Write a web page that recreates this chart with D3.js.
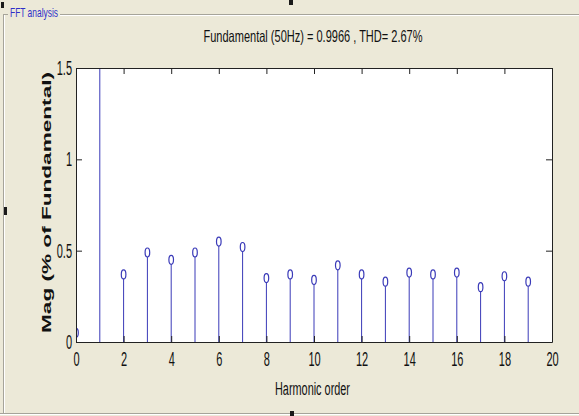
<!DOCTYPE html>
<html>
<head>
<meta charset="utf-8">
<script src="https://cdn.jsdelivr.net/npm/d3@7"></script>
<style>
  html, body { margin: 0; padding: 0; background: #ece9d8; }
  svg { display: block; font-family: 'Liberation Sans', Arial, sans-serif; }
</style>
</head>
<body>
<div id="chart"></div>
<script>
/* global d3 */

// Harmonic spectrum, in % of fundamental (the fundamental itself runs off the top)
const harmonics = [0, 1, 2, 3, 4, 5, 6, 7, 8, 9, 10, 11, 12, 13, 14, 15, 16, 17, 18, 19]
const magnitudes = [0.05, 100, 0.37, 0.49, 0.45, 0.49, 0.55, 0.52, 0.35, 0.37,
  0.34, 0.42, 0.37, 0.33, 0.38, 0.37, 0.38, 0.30, 0.36, 0.33]
const xTicks = [0, 2, 4, 6, 8, 10, 12, 14, 16, 18, 20]
const yTicks = [0, 0.5, 1, 1.5]
const titleText = 'Fundamental (50Hz) = 0.9966 , THD= 2.67%'
const xLabel = 'Harmonic order'
const yLabel = 'Mag (% of Fundamental)'
const panelLabel = 'FFT analysis'

// Our canvas
const width = 579,
  height = 416,
  plotLeft = 76,
  plotRight = 552,
  plotTop = 68,
  plotBottom = 342

const blue = '#3a3ab8'

let svg = d3.select('#chart')
  .append('svg')
  .attr('width', width)
  .attr('height', height)

svg.append('rect')
  .attr('width', width)
  .attr('height', height)
  .attr('fill', '#ece9d8')

// group box frame (etched lines)
const etch = (x1, y1, x2, y2) => {
  const v = x1 === x2 ? 1 : 0
  svg.append('line').attr('x1', x1).attr('y1', y1).attr('x2', x2).attr('y2', y2)
    .attr('stroke', '#a6a49a').attr('stroke-width', 1)
  svg.append('line').attr('x1', x1 + v).attr('y1', y1 + (1 - v))
    .attr('x2', x2 + v).attr('y2', y2 + (1 - v))
    .attr('stroke', '#ffffff').attr('stroke-width', 1)
}
etch(60, 14.5, width, 14.5)
etch(3.5, 14, 3.5, 413)
etch(0, 413.5, width, 413.5)
svg.append('line').attr('x1', 3.5).attr('y1', 14.5).attr('x2', 8).attr('y2', 14.5)
  .attr('stroke', '#a6a49a')

svg.append('text')
  .attr('x', 10)
  .attr('y', 17)
  .attr('font-size', 13)
  .attr('fill', '#2f2fc8')
  .attr('textLength', 48)
  .attr('lengthAdjust', 'spacingAndGlyphs')
  .text(panelLabel)

// resize handles
const handles = [[1, 2, 3, 6], [289, 0, 4, 5], [4, 207, 3, 8], [290, 411, 4, 5]]
handles.forEach(h => {
  svg.append('rect').attr('x', h[0]).attr('y', h[1]).attr('width', h[2]).attr('height', h[3])
    .attr('fill', '#1a1a1a')
})

const xScale = d3.scaleLinear().domain([0, 20]).range([plotLeft, plotRight])
const yScale = d3.scaleLinear().domain([0, 1.5]).range([plotBottom, plotTop])

svg.append('rect')
  .attr('x', plotLeft)
  .attr('y', plotTop)
  .attr('width', plotRight - plotLeft)
  .attr('height', plotBottom - plotTop)
  .attr('fill', '#ffffff')

svg.append('clipPath').attr('id', 'plotclip')
  .append('rect')
  .attr('x', plotLeft)
  .attr('y', plotTop)
  .attr('width', plotRight - plotLeft)
  .attr('height', plotBottom - plotTop)

// stems
const plot = svg.append('g').attr('clip-path', 'url(#plotclip)')
const ry = 4.5

plot.selectAll('line.stem')
  .data(harmonics)
  .enter()
  .append('line')
  .attr('class', 'stem')
  .attr('x1', d => xScale(d))
  .attr('x2', d => xScale(d))
  .attr('y1', yScale(0))
  .attr('y2', (d, i) => yScale(magnitudes[i]) + ry)
  .attr('stroke', blue)
  .attr('stroke-width', 1)

plot.selectAll('ellipse.mark')
  .data(harmonics)
  .enter()
  .append('ellipse')
  .attr('class', 'mark')
  .attr('cx', d => xScale(d))
  .attr('cy', (d, i) => yScale(magnitudes[i]))
  .attr('rx', 2.3)
  .attr('ry', ry)
  .attr('fill', 'none')
  .attr('stroke', blue)
  .attr('stroke-width', 1.2)

// axes: MATLAB style box with inward ticks
const sx = 0.55
const fontSize = 20
const fmt = d3.format('~g')

const xAxis = d3.axisBottom(xScale).tickValues(xTicks).tickFormat(fmt)
  .tickSizeInner(-6).tickSizeOuter(0).tickPadding(10)
const yAxis = d3.axisLeft(yScale).tickValues(yTicks).tickFormat(fmt)
  .tickSizeInner(-6).tickSizeOuter(0).tickPadding(4)

const gx = svg.append('g')
  .attr('transform', `translate(0, ${plotBottom})`)
  .call(xAxis)
gx.selectAll('text')
  .attr('font-size', fontSize)
  .attr('fill', '#111')
  .attr('transform', `scale(${sx}, 1)`)

const gy = svg.append('g')
  .attr('transform', `translate(${plotLeft}, 0)`)
  .call(yAxis)
gy.selectAll('text')
  .attr('font-size', fontSize)
  .attr('fill', '#111')
  .attr('x', -4 / sx)
  .attr('transform', `scale(${sx}, 1)`)

svg.append('g')
  .attr('transform', `translate(0, ${plotTop})`)
  .call(d3.axisTop(xScale).tickValues(xTicks).tickSizeInner(-6).tickSizeOuter(0).tickFormat(''))
svg.append('g')
  .attr('transform', `translate(${plotRight}, 0)`)
  .call(d3.axisRight(yScale).tickValues(yTicks).tickSizeInner(-6).tickSizeOuter(0).tickFormat(''))

svg.selectAll('.domain').attr('stroke', '#222')
svg.selectAll('.tick line').attr('stroke', '#222')

// labels
svg.append('text')
  .attr('x', (plotLeft + plotRight) / 2 - 1)
  .attr('y', 42)
  .attr('text-anchor', 'middle')
  .attr('font-size', 16.5)
  .attr('fill', '#111')
  .attr('textLength', 219)
  .attr('lengthAdjust', 'spacingAndGlyphs')
  .text(titleText)

svg.append('text')
  .attr('x', 312.5)
  .attr('y', 395)
  .attr('text-anchor', 'middle')
  .attr('font-size', 18)
  .attr('fill', '#111')
  .attr('textLength', 75)
  .attr('lengthAdjust', 'spacingAndGlyphs')
  .text(xLabel)

svg.append('text')
  .attr('transform', `translate(51, ${(72 + 333) / 2}) rotate(-90)`)
  .attr('text-anchor', 'middle')
  .attr('font-size', 13)
  .attr('font-weight', 'bold')
  .attr('fill', '#111')
  .attr('textLength', 261)
  .attr('lengthAdjust', 'spacingAndGlyphs')
  .text(yLabel)
</script>
</body>
</html>
